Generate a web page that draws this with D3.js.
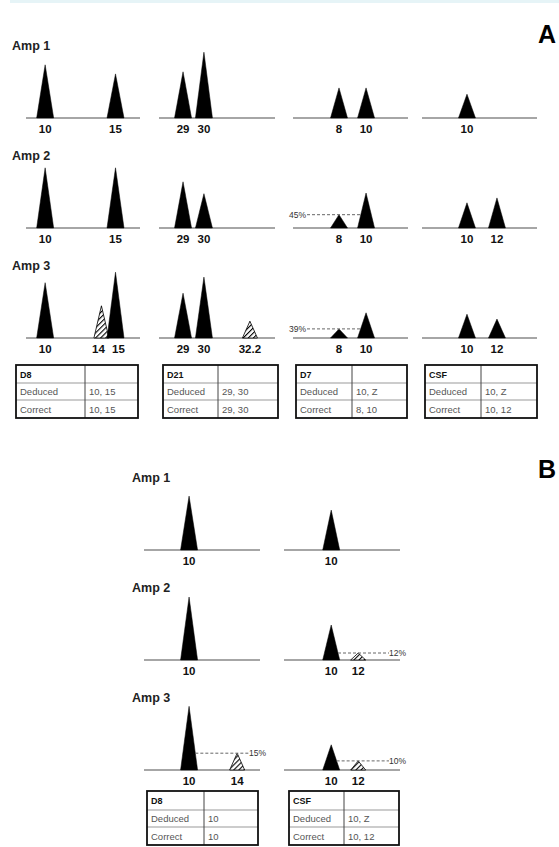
<!DOCTYPE html>
<html>
<head>
<meta charset="utf-8">
<script src="https://cdn.jsdelivr.net/npm/d3@7"></script>
<style>
  body { margin: 0; background: #fff; }
  svg { display: block; font-family: Arial, "Liberation Sans", sans-serif; }
</style>
</head>
<body>
<div id="chart"></div>
<script>
// ---- data ----
const ampLabels = ["Amp 1", "Amp 2", "Amp 3"];
const lociA = ["D8", "D21", "D7", "CSF"];
const lociB = ["D8", "CSF"];

// peak heights in arbitrary units, drop = hatched (artefact) peak
const peaksA1 = [
  {locus: "D8", allele: 10, h: 76}, {locus: "D8", allele: 15, h: 63},
  {locus: "D21", allele: 29, h: 66}, {locus: "D21", allele: 30, h: 94},
  {locus: "D7", allele: 8, h: 43}, {locus: "D7", allele: 10, h: 43},
  {locus: "CSF", allele: 10, h: 34}
];
const peaksA2 = [
  {locus: "D8", allele: 10, h: 86}, {locus: "D8", allele: 15, h: 86},
  {locus: "D21", allele: 29, h: 66}, {locus: "D21", allele: 30, h: 49},
  {locus: "D7", allele: 8, h: 19}, {locus: "D7", allele: 10, h: 50},
  {locus: "CSF", allele: 10, h: 36}, {locus: "CSF", allele: 12, h: 43}
];
const peaksA3 = [
  {locus: "D8", allele: 10, h: 79}, {locus: "D8", allele: 14, h: 46, drop: true}, {locus: "D8", allele: 15, h: 94},
  {locus: "D21", allele: 29, h: 64}, {locus: "D21", allele: 30, h: 87}, {locus: "D21", allele: 32.2, h: 24, drop: true},
  {locus: "D7", allele: 8, h: 13}, {locus: "D7", allele: 10, h: 36},
  {locus: "CSF", allele: 10, h: 34}, {locus: "CSF", allele: 12, h: 27}
];
const peaksB1 = [
  {locus: "D8", allele: 10, h: 77},
  {locus: "CSF", allele: 10, h: 57}
];
const peaksB2 = [
  {locus: "D8", allele: 10, h: 90},
  {locus: "CSF", allele: 10, h: 50}, {locus: "CSF", allele: 12, h: 10, drop: true}
];
const peaksB3 = [
  {locus: "D8", allele: 10, h: 91}, {locus: "D8", allele: 14, h: 24, drop: true},
  {locus: "CSF", allele: 10, h: 36}, {locus: "CSF", allele: 12, h: 13, drop: true}
];

// percentage guides: row index, locus, minor allele, major allele, text
const pctA = [
  {row: 1, locus: "D7", minor: 8, major: 10, label: "45%"},
  {row: 2, locus: "D7", minor: 8, major: 10, label: "39%"}
];
const pctB = [
  {row: 1, locus: "CSF", minor: 12, major: 10, label: "12%"},
  {row: 2, locus: "D8", minor: 14, major: 10, label: "15%"},
  {row: 2, locus: "CSF", minor: 12, major: 10, label: "10%"}
];

const tableLociA = ["D8", "D21", "D7", "CSF"];
const deducedA = ["10, 15", "29, 30", "10, Z", "10, Z"];
const correctA = ["10, 15", "29, 30", "8, 10", "10, 12"];
const tableLociB = ["D8", "CSF"];
const deducedB = ["10", "10, Z"];
const correctB = ["10", "10, 12"];

// ---- layout ----
const width = 559, height = 847;
const svg = d3.select("#chart").append("svg")
  .attr("width", width)
  .attr("height", height);

const defs = svg.append("defs");
defs.append("pattern")
  .attr("id", "hatch")
  .attr("patternUnits", "userSpaceOnUse")
  .attr("width", 3.6).attr("height", 3.6)
  .attr("patternTransform", "rotate(45)")
  .call(p => p.append("rect").attr("width", 3.6).attr("height", 3.6).attr("fill", "#fff"))
  .append("line")
  .attr("x1", 0).attr("y1", 0).attr("x2", 0).attr("y2", 3.6)
  .attr("stroke", "#000").attr("stroke-width", 2.2);

// top strip of the page
svg.append("rect").attr("x", 10).attr("y", 0).attr("width", width - 10).attr("height", 3)
  .attr("fill", "#e6f4f7");

const yScale = d3.scaleLinear().domain([0, 100]).range([0, 70]);
const halfW = 8.5, halfWDrop = 7.5;
const minLabelGap = 20;

// push neighbouring allele labels apart so they don't run together
function spreadLabels(xsSorted) {
  const out = xsSorted.slice();
  for (let i = 1; i < out.length; i++) {
    const gap = out[i] - out[i - 1];
    if (gap < minLabelGap) {
      const push = (minLabelGap - gap) / 2;
      out[i - 1] -= push;
      out[i] += push;
    }
  }
  return out;
}

function drawPanel(cfg) {
  const g = svg.append("g");
  const xs = {};
  cfg.loci.forEach((l, i) => {
    xs[l] = d3.scaleLinear().domain(cfg.domains[i]).range(cfg.ranges[i]);
  });

  cfg.rows.forEach((peaks, r) => {
    const base = cfg.baselines[r];
    g.append("text")
      .attr("x", cfg.labelX).attr("y", base - 68)
      .attr("font-size", 12.5).attr("font-weight", "bold").attr("fill", "#222")
      .text(ampLabels[r]);

    cfg.loci.forEach((l, i) => {
      g.append("line")
        .attr("x1", cfg.ranges[i][0]).attr("x2", cfg.ranges[i][1])
        .attr("y1", base).attr("y2", base)
        .attr("stroke", "#888").attr("stroke-width", 1.6);
    });

    g.selectAll(null)
      .data(peaks)
      .enter()
      .append("path")
      .attr("d", d => {
        const x = xs[d.locus](d.allele), top = base - yScale(d.h);
        const w = d.drop ? halfWDrop : halfW;
        return `M${x - w},${base}L${x},${top}L${x + w},${base}Z`;
      })
      .attr("fill", d => d.drop ? "url(#hatch)" : "#000")
      .attr("stroke", "#000")
      .attr("stroke-width", d => d.drop ? 0.8 : 0.5);

    // allele labels
    cfg.loci.forEach(l => {
      const lp = peaks.filter(d => d.locus === l).sort((a, b) => a.allele - b.allele);
      const lx = spreadLabels(lp.map(d => xs[l](d.allele)));
      g.selectAll(null)
        .data(lp)
        .enter()
        .append("text")
        .attr("x", (d, k) => lx[k])
        .attr("y", base + 15)
        .attr("text-anchor", "middle")
        .attr("font-size", 11.5).attr("font-weight", "bold").attr("fill", "#111")
        .text(d => d.allele);
    });

    cfg.pct.filter(p => p.row === r).forEach(p => {
      const i = cfg.loci.indexOf(p.locus);
      const pk = a => peaks.find(d => d.locus === p.locus && d.allele === a);
      const minor = pk(p.minor), major = pk(p.major);
      const yy = base - yScale(minor.h);
      const xm = xs[p.locus](major.allele);
      const edge = halfW * (1 - minor.h / major.h);
      let x1, x2, tx, anchor;
      if (p.minor < p.major) {
        x1 = cfg.ranges[i][0] + 14; x2 = xm - edge; tx = x1 - 1; anchor = "end";
      } else {
        x1 = xm + edge; x2 = cfg.ranges[i][1] - 11; tx = x2; anchor = "start";
      }
      g.append("line")
        .attr("x1", x1).attr("x2", x2).attr("y1", yy).attr("y2", yy)
        .attr("stroke", "#666").attr("stroke-width", 1).attr("stroke-dasharray", "3,2");
      g.append("text")
        .attr("x", tx).attr("y", yy + 3)
        .attr("text-anchor", anchor)
        .attr("font-size", 8.5).attr("fill", "#333")
        .text(p.label);
    });
  });

  // tables
  cfg.tables.forEach(t => {
    const tg = g.append("g");
    const rowsH = cfg.tableRows;
    const yEdges = [cfg.tableY];
    rowsH.forEach(h => yEdges.push(yEdges[yEdges.length - 1] + h));
    const cells = [[t.locus, ""], ["Deduced", t.ded], ["Correct", t.cor]];
    cells.forEach((row, ri) => {
      row.forEach((txt, ci) => {
        tg.append("text")
          .attr("x", (ci === 0 ? t.x0 : t.xd) + 4)
          .attr("y", yEdges[ri] + rowsH[ri] / 2 + 3.5)
          .attr("font-size", ri === 0 ? 9 : 9.5)
          .attr("font-weight", ri === 0 ? "bold" : "normal")
          .attr("fill", ri === 0 ? "#111" : "#555")
          .text(txt);
      });
    });
    yEdges.slice(1, -1).forEach(y => {
      tg.append("line").attr("x1", t.x0).attr("x2", t.x1).attr("y1", y).attr("y2", y)
        .attr("stroke", "#999").attr("stroke-width", 1);
    });
    tg.append("line").attr("x1", t.xd).attr("x2", t.xd)
      .attr("y1", yEdges[0]).attr("y2", yEdges[yEdges.length - 1])
      .attr("stroke", "#444").attr("stroke-width", 1);
    tg.append("rect")
      .attr("x", t.x0).attr("y", yEdges[0])
      .attr("width", t.x1 - t.x0).attr("height", yEdges[yEdges.length - 1] - yEdges[0])
      .attr("fill", "none").attr("stroke", "#111").attr("stroke-width", 1.8);
  });

  g.append("text")
    .attr("x", cfg.letter[0]).attr("y", cfg.letter[1])
    .attr("font-size", 25).attr("font-weight", "bold").attr("fill", "#000")
    .text(cfg.letterText);
}

drawPanel({
  loci: lociA,
  rows: [peaksA1, peaksA2, peaksA3],
  baselines: [118, 228, 338],
  ranges: [[26, 140], [159, 275], [293, 408], [422, 537]],
  domains: [[8.64, 16.74], [27.85, 33.4], [4.6, 13.1], [7, 14.67]],
  labelX: 12,
  pct: pctA,
  tableY: 365,
  tableRows: [18, 17, 18],
  tables: tableLociA.map((l, i) => ({
    locus: l, ded: deducedA[i], cor: correctA[i],
    x0: [16, 163, 296, 425][i], x1: [138, 278, 407, 537][i], xd: [85, 218, 352, 481][i]
  })),
  letter: [538, 43],
  letterText: "A"
});

drawPanel({
  loci: lociB,
  rows: [peaksB1, peaksB2, peaksB3],
  baselines: [550, 660, 770],
  ranges: [[144, 260], [284, 400]],
  domains: [[6.25, 15.9], [6.5, 15.1]],
  labelX: 132,
  pct: pctB,
  tableY: 791,
  tableRows: [19, 17, 18],
  tables: tableLociB.map((l, i) => ({
    locus: l, ded: deducedB[i], cor: correctB[i],
    x0: [147, 289][i], x1: [258, 399][i], xd: [204, 344][i]
  })),
  letter: [538, 478],
  letterText: "B"
});
</script>
</body>
</html>
